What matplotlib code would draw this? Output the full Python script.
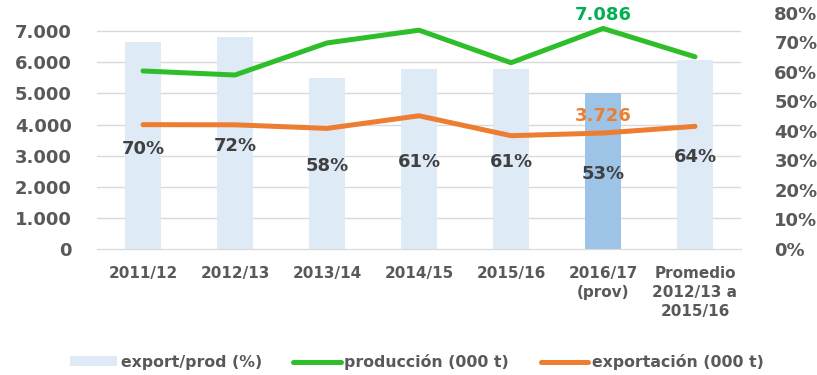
import matplotlib
matplotlib.use("Agg")
import matplotlib.pyplot as plt
from matplotlib.lines import Line2D
from matplotlib.patches import Patch

# Campañas
categories = ["2011/12", "2012/13", "2013/14", "2014/15", "2015/16",
              "2016/17\n(prov)", "Promedio\n2012/13 a\n2015/16"]
# Ratio exportación / producción (%)
export_ratio = [70, 72, 58, 61, 61, 53, 64]
# Producción (000 t)
produccion = [5720, 5590, 6620, 7030, 5985, 7086, 6175]
# Exportación (000 t)
exportacion = [3995, 3990, 3875, 4280, 3640, 3726, 3940]
left_ticks = [0, 1000, 2000, 3000, 4000, 5000, 6000, 7000]
left_ticklabels = ["0", "1.000", "2.000", "3.000", "4.000", "5.000", "6.000", "7.000"]
right_ticks = [0, 10, 20, 30, 40, 50, 60, 70, 80]

BAR = "#DEEAF6"
BAR_HI = "#9DC3E6"
GREEN = "#2EBE2A"
GREEN_TXT = "#00B050"
ORANGE = "#ED7D31"
TICK = "#595959"
LABEL = "#404040"
GRID = "#D9D9D9"

plt.rcParams["font.family"] = ["DejaVu Sans"]
plt.rcParams["font.weight"] = "bold"

fig = plt.figure(figsize=(8.17, 3.75), dpi=100)
ax = fig.add_axes([97 / 817, 1 - 249 / 375, 644 / 817, 249 / 375])
ax2 = ax.twinx()

x = list(range(len(categories)))

# Barras del ratio en el eje derecho
colors = [BAR] * len(x)
colors[5] = BAR_HI
ax2.bar(x, export_ratio, width=0.4, color=colors, zorder=1)
ax2.set_ylim(0, 84.4)
ax2.set_yticks(right_ticks)
ax2.set_yticklabels([f"{t}%" for t in right_ticks])
for xi, v in zip(x, export_ratio):
    ax2.annotate(f"{v}%", (xi, v / 2), xytext=(0, -2), textcoords="offset points",
                 ha="center", va="center", fontsize=13, fontweight="bold",
                 color=LABEL, zorder=5)

# Líneas de producción y exportación en el eje izquierdo (por encima de las barras)
ax.set_zorder(ax2.get_zorder() + 1)
ax.patch.set_visible(False)
ax.plot(x, produccion, color=GREEN, lw=3.6, solid_capstyle="round",
        solid_joinstyle="round", zorder=3)
ax.plot(x, exportacion, color=ORANGE, lw=3.6, solid_capstyle="round",
        solid_joinstyle="round", zorder=3)
ax.set_ylim(0, 8000)
ax.set_xlim(-0.5, len(x) - 0.5)
ax.set_yticks(left_ticks)
ax.set_yticklabels(left_ticklabels)

ax.annotate("7.086", (5, produccion[5]), xytext=(0, 9.5), textcoords="offset points",
            ha="center", va="center", fontsize=13, fontweight="bold", color=GREEN_TXT)
ax.annotate("3.726", (5, exportacion[5]), xytext=(0, 12.5), textcoords="offset points",
            ha="center", va="center", fontsize=13, fontweight="bold", color=ORANGE)

# Rejilla horizontal detrás de todo
for t in left_ticks[1:]:
    ax2.axhline(t / 8000 * 84.4, color=GRID, lw=1, zorder=0)

ax.set_xticks(x)
ax.set_xticklabels(categories, fontsize=11, fontweight="bold", color=TICK,
                   linespacing=1.35, va="top")
ax.tick_params(axis="x", length=0, pad=12)
ax.tick_params(axis="y", length=0, pad=18, labelsize=13, labelcolor=TICK)
ax2.tick_params(axis="y", length=0, pad=24, labelsize=13, labelcolor=TICK)
for t in ax.get_yticklabels() + ax2.get_yticklabels():
    t.set_fontweight("bold")

for a in (ax, ax2):
    for s in ("top", "left", "right"):
        a.spines[s].set_visible(False)
    a.spines["bottom"].set_color(GRID)

handles = [
    Patch(facecolor=BAR, edgecolor="none", label="export/prod (%)"),
    Line2D([0], [0], color=GREEN, lw=3.6, solid_capstyle="round", label="producción (000 t)"),
    Line2D([0], [0], color=ORANGE, lw=3.6, solid_capstyle="round", label="exportación (000 t)"),
]
leg = fig.legend(handles=handles, loc="center", bbox_to_anchor=(0.51, 0.035), ncol=3,
                 frameon=False, fontsize=11.3, handlelength=3.0, handleheight=0.6,
                 handletextpad=0.25, columnspacing=2.0, borderaxespad=0)
for t in leg.get_texts():
    t.set_color(TICK)
    t.set_fontweight("bold")

fig.savefig("out.png", dpi=100)
